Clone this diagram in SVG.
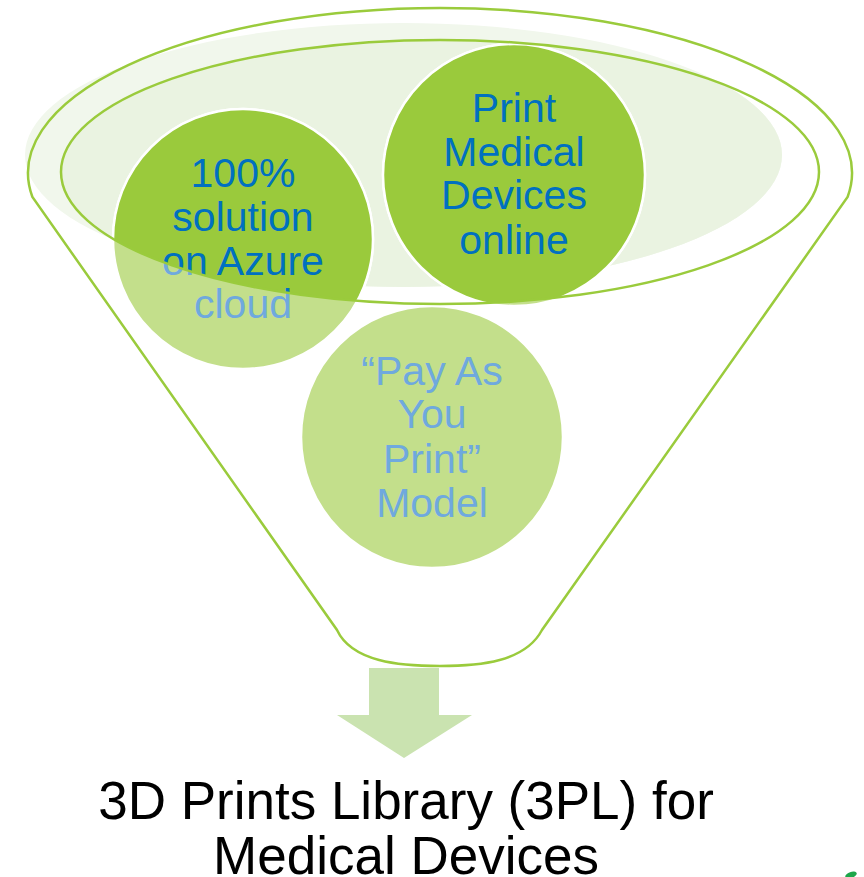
<svg xmlns="http://www.w3.org/2000/svg" width="864" height="877" viewBox="0 0 864 877">
  <style>
    .lbl { font-family: "Liberation Sans", Arial, sans-serif; font-size: 41px; text-anchor: middle; }
    .dark { fill: #0070C0; }
    .lite { fill: #6FA9DE; }
    .cdark { fill: #9ACA3C; stroke: #FFFFFF; stroke-width: 2.5; }
    .clite { fill: #C3DF8B; stroke: #FFFFFF; stroke-width: 2.5; }
    .rim { fill: none; stroke: #9ACB3C; stroke-width: 2.5; }
    .cap { font-family: "Liberation Sans", Arial, sans-serif; font-size: 53px; text-anchor: middle; fill: #000000; }
  </style>
  <defs>
    <clipPath id="inner">
      <ellipse cx="440" cy="172" rx="379" ry="132"/>
    </clipPath>
  </defs>
  <rect x="0" y="0" width="864" height="877" fill="#FFFFFF"/>

  <g id="funnel-bg">
    <ellipse cx="403.5" cy="155" rx="378.5" ry="132" fill="#F1F7EC"/>
    <ellipse cx="403.5" cy="155" rx="378.5" ry="132" fill="#EAF3E1" clip-path="url(#inner)"/>
  </g>

  <g id="node-azure">
    <circle class="clite" cx="243" cy="239" r="130"/>
    <text class="lbl lite" x="243" y="187">100%</text>
    <text class="lbl lite" x="243" y="231">solution</text>
    <text class="lbl lite" x="243" y="275">on Azure</text>
    <text class="lbl lite" x="243" y="318">cloud</text>
    <g clip-path="url(#inner)">
      <circle class="cdark" cx="243" cy="239" r="130"/>
      <text class="lbl dark" x="243" y="187">100%</text>
      <text class="lbl dark" x="243" y="231">solution</text>
      <text class="lbl dark" x="243" y="275">on Azure</text>
      <text class="lbl dark" x="243" y="318">cloud</text>
    </g>
  </g>

  <g id="node-print">
    <circle class="clite" cx="514" cy="175" r="131"/>
    <g clip-path="url(#inner)">
      <circle class="cdark" cx="514" cy="175" r="131"/>
      <text class="lbl dark" x="514" y="122">Print</text>
      <text class="lbl dark" x="514" y="166">Medical</text>
      <text class="lbl dark" x="514" y="209">Devices</text>
      <text class="lbl dark" x="514" y="254">online</text>
    </g>
  </g>

  <g id="node-pay">
    <circle class="clite" cx="432" cy="437" r="131"/>
    <text class="lbl lite" x="432" y="385">“Pay As</text>
    <text class="lbl lite" x="432" y="428">You</text>
    <text class="lbl lite" x="432" y="473">Print”</text>
    <text class="lbl lite" x="432" y="517">Model</text>
  </g>

  <g id="funnel">
    <ellipse class="rim" cx="440" cy="172" rx="379" ry="132"/>
    <path class="rim" d="M 32.4 197 A 412 165 0 1 1 847.6 197 L 542 630 C 525 662 480 666 440 666 C 400 666 352 662 337 630 Z"/>
  </g>

  <g id="connectors">
    <polygon points="369,668 439,668 439,715 472,715 404,758 337,715 369,715" fill="#CAE3B0"/>
  </g>

  <g id="caption">
    <text class="cap" x="406" y="819">3D Prints Library (3PL) for</text>
    <text class="cap" x="406" y="874">Medical Devices</text>
  </g>

  <g id="corner-mark">
    <ellipse cx="851" cy="875" rx="6" ry="3" fill="#1DA64A" transform="rotate(-20 851 875)"/>
  </g>
</svg>
